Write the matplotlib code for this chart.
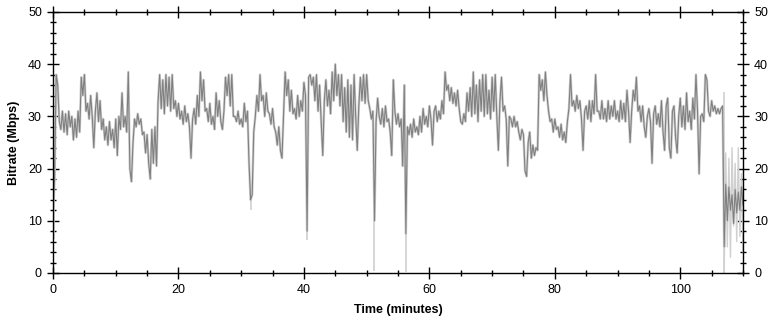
import numpy as np
import matplotlib.pyplot as plt
from matplotlib.ticker import MultipleLocator

plt.rcParams['font.family'] = ['Liberation Sans', 'DejaVu Sans']

# bitrate (Mbps) every quarter minute, one row per minute
bitrate = [
    11, 18, 38, 36,
    29, 27.5, 31, 27,
    30.5, 26.5, 31, 28,
    30, 25.5, 29.5, 26,
    31, 27, 37.5, 34,
    38, 31, 32.5, 29.5,
    34, 30, 24, 31,
    34.5, 29, 33, 27.5,
    29.5, 25.5, 28, 24.5,
    29, 25.5, 27.5, 24,
    29.5, 22.5, 30, 27.5,
    34.5, 28, 30, 27,
    38.5, 20, 17.5, 25,
    29.5, 28, 30.5, 28.5,
    29.5, 26.5, 27, 23,
    26.5, 21, 18, 27.5,
    21, 28, 20.5, 33,
    38, 31.5, 37, 30.5,
    38, 32, 37.5, 31,
    38, 31.5, 33, 30,
    32.5, 29.5, 31, 28.5,
    32, 29, 30.5, 28,
    22, 29.5, 31.5, 28.5,
    34, 30, 38.5, 33,
    37, 31, 31.5, 29,
    32.5, 28.5, 30, 27.5,
    34.5, 30, 33, 29,
    27.5, 31, 37.5, 34,
    38, 32, 38, 30,
    30, 29, 31, 28.5,
    29.5, 28, 32.5, 29,
    31, 21, 14, 15,
    27, 30, 34, 31,
    38, 33, 34, 30,
    34.5, 31, 30.5, 28.5,
    31.5, 28, 27, 24.5,
    28, 23.5, 22, 30,
    38.5, 34, 37, 31,
    35, 30.5, 31.5, 29.5,
    34, 30, 33, 31,
    36.5, 34, 8, 37.5,
    38, 36, 37.5, 33,
    38, 31, 36, 29,
    22.5, 33, 37, 32,
    35, 30.5, 38.5, 33,
    40, 34, 38, 32,
    38, 29, 35.5, 27,
    37, 26, 36, 25.5,
    38, 30, 23.5, 32,
    37.5, 33, 38, 32.5,
    38, 33, 31.5, 29.5,
    31, 10, 29, 33.5,
    30, 28.5, 31.5, 28,
    32, 29, 29.5, 27,
    22.5, 37, 31, 28.5,
    30.5, 28, 29.5, 20.5,
    36, 7.5, 28, 26.5,
    28.5, 26, 29.5, 27,
    28, 26.5, 30, 27,
    31.5, 28.5, 30, 28,
    32, 29.5, 24.5, 31,
    32, 29, 31, 29.5,
    33, 30.5, 38.5, 35,
    36, 33, 35.5, 32.5,
    34.5, 32, 35, 31.5,
    29, 28.5, 30.5, 29,
    34.5, 31, 35.5, 30,
    38.5, 30.5, 36, 29,
    37, 31, 38, 30,
    38, 30.5, 35, 29.5,
    37.5, 31, 38, 30,
    23.5, 33, 37.5, 31,
    32, 29.5, 20.5, 30,
    29.5, 28, 30, 28,
    29, 27, 25.5, 27.5,
    26.5, 19.5, 18.5, 25,
    27, 22, 24.5, 22.5,
    24, 23.5, 38, 35,
    37, 33, 38.5, 34,
    31, 29, 29.5, 27,
    29.5, 27.5, 28, 26,
    28.5, 25.5, 27, 25,
    29, 31.5, 38, 32,
    33, 31, 34, 31.5,
    33, 29.5, 23.5, 31,
    32, 29.5, 33, 29,
    33, 30.5, 38, 31,
    31, 29.5, 33, 29.5,
    31.5, 29, 33, 29.5,
    32, 30, 33, 29.5,
    31, 29, 33, 29.5,
    32.5, 29, 35, 31,
    25, 31, 35, 33,
    37.5, 31, 32, 29,
    32, 28, 26, 30,
    31.5, 29, 21, 30.5,
    32, 28.5, 30.5, 28,
    33, 27, 23.5, 32,
    33.5, 24, 22, 31,
    32, 26, 23, 30,
    33.5, 28, 32, 27.5,
    34.5, 29, 31, 27.5,
    33.5, 29.5, 38, 31,
    19, 30, 30.5, 29,
    38, 37, 31, 30,
    33, 31, 32, 30.5,
    31.5, 30.5, 31.5, 32,
    5, 17, 10, 16.5,
    12, 15, 9.5, 16,
    11.5, 15.5, 12, 16.5,
    13,
]
minutes = np.arange(len(bitrate)) * 0.25

# light grey peaks at the end of the recording (every quarter minute from 107)
tail_peaks = [0, 23, 5, 22, 3, 24, 9, 21, 6, 24, 7, 19, 4]
tail_minutes = 107 + np.arange(len(tail_peaks)) * 0.25

# single light grey drop-outs
spike_t = [0.1, 31.5, 40.5, 51.25, 56.25, 106.9]
spike_lo = [6.5, 12, 6.3, 0.3, 0.2, 0]
spike_hi = [20, 16, 10, 12, 10, 34.7]

fig = plt.figure(figsize=(7.73, 3.2), dpi=100)
ax = fig.add_axes([0.0686, 0.147, 0.8926, 0.8155])

ax.plot(tail_minutes, tail_peaks, color='#d0d0d0', lw=1.0)
ax.vlines(spike_t, spike_lo, spike_hi, color='#d0d0d0', lw=1.2)
ax.plot(minutes, bitrate, color='#d0d0d0', lw=1.8)
ax.plot(minutes, bitrate, color='#808080', lw=0.8)

ax.set_xlim(0, 110)
ax.set_ylim(0, 50)
ax.xaxis.set_major_locator(MultipleLocator(20))
ax.xaxis.set_minor_locator(MultipleLocator(5))
ax.yaxis.set_major_locator(MultipleLocator(10))
ax.yaxis.set_minor_locator(MultipleLocator(2))

ax.tick_params(which='both', direction='inout', top=True, right=True,
               labelright=True, labelsize=9, width=1, colors='black')
ax.tick_params(which='major', length=8, pad=4)
ax.tick_params(which='minor', length=4)
for s in ax.spines.values():
    s.set_linewidth(1)

ax.set_xlabel('Time (minutes)', fontsize=9, fontweight='bold', labelpad=6)
ax.set_ylabel('Bitrate (Mbps)', fontsize=9, fontweight='bold', labelpad=6)

fig.savefig('out.png', dpi=100)
